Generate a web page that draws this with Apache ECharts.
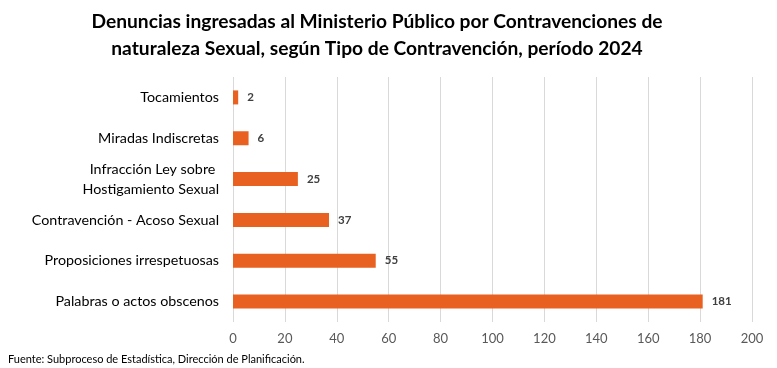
<!DOCTYPE html>
<html><head><meta charset="utf-8">
<script src="https://cdn.jsdelivr.net/npm/echarts@6/dist/echarts.min.js"></script>
<style>html,body{margin:0;padding:0;background:#fff}#c{width:777px;height:368px}</style>
</head><body><div id="c"></div>
<script>
const categories = ["Palabras o actos obscenos","Proposiciones irrespetuosas","Contravención - Acoso Sexual","Infracción Ley sobre \nHostigamiento Sexual","Miradas Indiscretas","Tocamientos"];
const values = [181,55,37,25,6,2];
const xTicks = {min:0,max:200,interval:20};
const titleText = "Denuncias ingresadas al Ministerio Público por Contravenciones de\nnaturaleza Sexual, según Tipo de Contravención, período 2024";
const sourceText = "Fuente: Subproceso de Estadística, Dirección de Planificación.";
const chart = echarts.init(document.getElementById('c'));
chart.setOption({
  animation:false,
  title:[{text:titleText,left:372,textAlign:'center',top:3,textStyle:{fontFamily:'Lato',fontWeight:'bold',fontSize:19.2,lineHeight:27,color:'#000'}},
         {text:sourceText,left:3,top:349,textStyle:{fontFamily:'Lato',fontWeight:'normal',fontSize:11,color:'#000'}}],
  grid:{left:233,right:25,top:77,height:245},
  xAxis:{type:'value',min:xTicks.min,max:xTicks.max,interval:xTicks.interval,
    axisLine:{show:false},axisTick:{show:false},
    splitLine:{lineStyle:{color:'#d9d9d9'}},
    axisLabel:{fontFamily:'Lato',fontSize:13,color:'#595959',margin:10}},
  yAxis:{type:'category',data:categories,
    axisLine:{show:false},axisTick:{show:false},
    axisLabel:{fontFamily:'Lato',fontSize:14.3,color:'#000',margin:14,lineHeight:20}},
  series:[{type:'bar',data:values,barWidth:14,itemStyle:{color:'#E96120'},
    label:{show:true,position:'right',distance:9,fontFamily:'Lato',fontWeight:'bold',fontSize:11.5,color:'#404040'}}]
});
</script></body></html>
